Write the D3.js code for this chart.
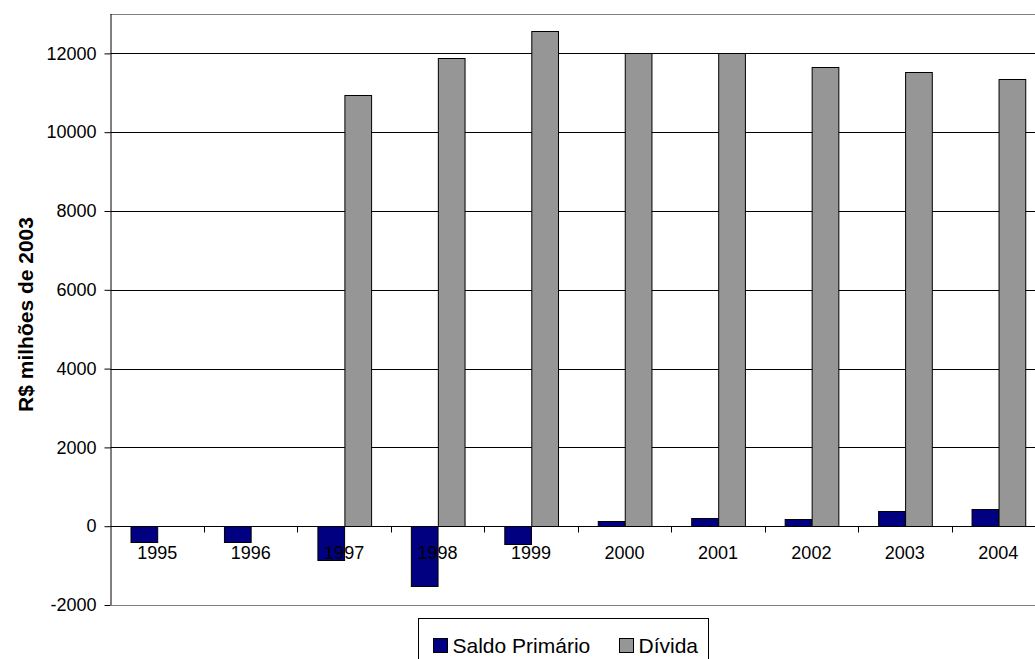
<!DOCTYPE html>
<html>
<head>
<meta charset="utf-8">
<script src="https://cdn.jsdelivr.net/npm/d3@7"></script>
<style>
  html, body { margin: 0; padding: 0; background: #fff; overflow: hidden; }
  svg { display: block; font-family: "Liberation Sans", Arial, sans-serif; }
</style>
</head>
<body>
<svg id="chart" width="1035" height="659"></svg>
<script>
// ---- data ----
const years = ["1995","1996","1997","1998","1999","2000","2001","2002","2003","2004"];
const saldoPrimario = [-400, -390, -860, -1530, -440, 125, 205, 180, 380, 440];
const divida = [null, null, 10950, 11890, 12575, 12015, 12015, 11660, 11525, 11350];
const seriesNames = ["Saldo Primário", "Dívida"];
const seriesColors = ["#000080", "#969696"];
const yTicks = [-2000, 0, 2000, 4000, 6000, 8000, 10000, 12000];
const yTitle = "R$ milhões de 2003";

// ---- layout ----
const svg = d3.select("#chart");
const plot = { left: 110.5, top: 14, right: 1045, bottom: 605 };

const x0 = d3.scaleBand().domain(years).range([plot.left, plot.right]).paddingInner(0).paddingOuter(0);
const x1 = d3.scaleBand().domain(seriesNames).range([0, x0.bandwidth()]).paddingInner(0).paddingOuter(0.75);
const y = d3.scaleLinear().domain([-2000, 13000]).range([plot.bottom, plot.top]);

const rows = years.map((yr, i) => ({ year: yr, values: [saldoPrimario[i], divida[i]] }));

// gridlines
svg.append("g").selectAll("line")
  .data(yTicks.filter(t => t > 0))
  .join("line")
  .attr("x1", plot.left).attr("x2", plot.right)
  .attr("y1", d => Math.round(y(d)) + 0.5).attr("y2", d => Math.round(y(d)) + 0.5)
  .attr("stroke", "#000").attr("stroke-width", 1);

// plot border (top/bottom gray)
svg.append("line").attr("x1", plot.left).attr("x2", plot.right)
  .attr("y1", Math.round(y(13000)) + 0.5).attr("y2", Math.round(y(13000)) + 0.5)
  .attr("stroke", "#808080").attr("stroke-width", 1);
svg.append("line").attr("x1", plot.left).attr("x2", plot.right)
  .attr("y1", Math.round(y(-2000)) + 0.5).attr("y2", Math.round(y(-2000)) + 0.5)
  .attr("stroke", "#808080").attr("stroke-width", 1);

// bars
const groups = svg.append("g").selectAll("g")
  .data(rows).join("g")
  .attr("transform", d => `translate(${x0(d.year)},0)`);
groups.selectAll("rect")
  .data(d => d.values.map((v, j) => ({ key: seriesNames[j], v, j })).filter(e => e.v !== null))
  .join("rect")
  .attr("x", e => Math.round(x1(e.key)) + 0.5)
  .attr("width", x1.bandwidth())
  .attr("y", e => Math.round(y(Math.max(0, e.v))) + 0.5)
  .attr("height", e => Math.abs(Math.round(y(e.v)) - Math.round(y(0))))
  .attr("fill", e => seriesColors[e.j])
  .attr("stroke", "#000").attr("stroke-width", 1);

// y axis
const yAxis = svg.append("g")
  .attr("transform", `translate(${plot.left},0)`)
  .call(d3.axisLeft(y).tickValues(yTicks).tickSize(6).tickPadding(8).tickFormat(d => String(d)));
yAxis.select(".domain").attr("d", `M0.5,${plot.top}V${plot.bottom}`).attr("stroke", "#000");
yAxis.selectAll(".tick line").attr("stroke", "#000");
yAxis.selectAll(".tick text").attr("font-size", 18).attr("fill", "#000")
  .attr("font-family", "'Liberation Sans', Arial, sans-serif");

// zero line (category axis)
const zeroY = Math.round(y(0)) + 0.5;
svg.append("line").attr("x1", plot.left).attr("x2", plot.right)
  .attr("y1", zeroY).attr("y2", zeroY).attr("stroke", "#000");

// category boundary ticks
svg.append("g").selectAll("line")
  .data(years.slice(1))
  .join("line")
  .attr("x1", d => Math.round(x0(d)) + 0.5).attr("x2", d => Math.round(x0(d)) + 0.5)
  .attr("y1", zeroY).attr("y2", zeroY + 6)
  .attr("stroke", "#000");

// category labels
const xAxis = svg.append("g")
  .attr("transform", `translate(0,${zeroY})`)
  .call(d3.axisBottom(x0).tickSize(0).tickPadding(20));
xAxis.select(".domain").remove();
xAxis.selectAll(".tick text").attr("font-size", 18).attr("fill", "#000")
  .attr("font-family", "'Liberation Sans', Arial, sans-serif");

// y title
svg.append("text")
  .attr("transform", `translate(33,${(plot.top + plot.bottom) / 2 + 5}) rotate(-90)`)
  .attr("text-anchor", "middle")
  .attr("font-size", 21).attr("font-weight", "bold")
  .text(yTitle);

// legend
const lg = svg.append("g").attr("transform", "translate(418.5,618.5)");
lg.append("rect").attr("width", 290).attr("height", 60)
  .attr("fill", "#fff").attr("stroke", "#000");
const legendX = [15, 201];
seriesNames.forEach((name, j) => {
  const g = lg.append("g").attr("transform", `translate(${legendX[j]},20)`);
  g.append("rect").attr("width", 14).attr("height", 14)
    .attr("fill", seriesColors[j]).attr("stroke", "#000");
  g.append("text").attr("x", 19).attr("y", 14)
    .attr("font-size", 21).text(name);
});
</script>
</body>
</html>
